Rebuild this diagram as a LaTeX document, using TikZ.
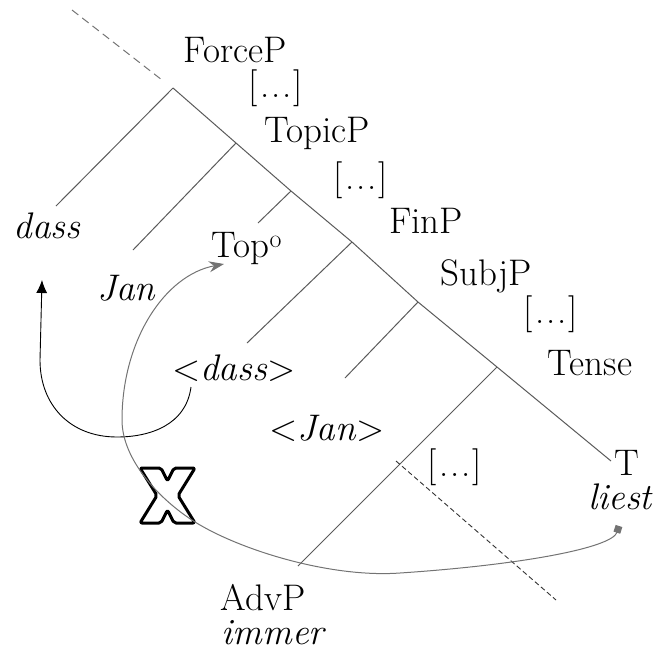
\documentclass[tikz,border=0pt]{standalone}
\usetikzlibrary{arrows.meta}
\definecolor{treegray}{RGB}{90,90,90}
\definecolor{movegray}{RGB}{115,115,115}

\begin{document}
\begin{tikzpicture}[x=1pt,y=-1pt,
    lbl/.style={font=\fontsize{37}{42}\selectfont,inner sep=0pt,anchor=base},
    lbli/.style={lbl,font=\fontsize{37}{42}\selectfont\itshape},
    branch/.style={treegray,line width=1pt},
  ]
  \def\elide{[\kern2pt.\kern2pt.\kern2pt.\kern2pt]}
  \useasboundingbox (0,0) rectangle (656,651);

  % spine of the tree
  \coordinate (force) at (173,88);
  \coordinate (topic) at (236,143);
  \coordinate (topich) at (291,191);
  \coordinate (fin) at (352,242);
  \coordinate (subj) at (418,302);
  \coordinate (tense) at (497,367);
  \coordinate (tend) at (611,461);
  \coordinate (advbr) at (396,461);

  % ends of the left branches
  \coordinate (dassend) at (56,206);
  \coordinate (janend) at (133,250);
  \coordinate (topend) at (258,223);
  \coordinate (dasstrend) at (247,343);
  \coordinate (jantrend) at (345,378);
  \coordinate (advend) at (298,566);
  \coordinate (vpend) at (556,600);
  \coordinate (upper) at (72,10);
  \coordinate (uppergap) at (162,80);

  \draw[branch] (force) -- (topic) -- (topich) -- (fin) -- (subj) -- (tense) -- (tend);
  \draw[branch] (force) -- (dassend);
  \draw[branch] (topic) -- (janend);
  \draw[branch] (topich) -- (topend);
  \draw[branch] (fin) -- (dasstrend);
  \draw[branch] (subj) -- (jantrend);
  \draw[branch] (tense) -- (advend);
  \draw[movegray,line width=1pt,dash pattern=on 8pt off 5pt] (upper) -- (uppergap);
  \draw[black!80,line width=0.9pt,dash pattern=on 5pt off 3pt] (advbr) -- (vpend);

  % labels on the spine
  \node[lbl] (forcep) at (235,62) {ForceP};
  \node[lbl] (elidea) at (276,97) {\elide};
  \node[lbl] (topicp) at (317,142) {TopicP};
  \node[lbl] (elideb) at (361,189) {\elide};
  \node[lbl] (finp) at (426,233) {FinP};
  \node[lbl] (subjp) at (486,285) {SubjP};
  \node[lbl] (elidec) at (551,323) {\elide};
  \node[lbl] (tensep) at (590,375) {Tense};
  \node[lbl] (tlbl) at (627,475) {T};
  \node[lbli] (liest) at (620,509) {liest};

  % labels on the branches
  \node[lbli] (dass) at (47,238) {dass};
  \node[lbli] (jan) at (126,300) {Jan};
  \node[lbl] (topo) at (247,257) {Top\textsuperscript{o}};
  \node[lbl] (dasstr) at (234,380) {<\textit{dass}>};
  \node[lbl] (jantr) at (327,440) {<\textit{Jan}>};
  \node[lbl] (elided) at (455,476) {\elide};
  \node[lbl] (advp) at (263,610) {AdvP};
  \node[lbli] (immer) at (273,644) {immer};

  % blocked movement
  \begin{scope}[shift={(140,468)}]
    \filldraw[fill=white,draw=black,line width=3pt,line join=round,rounded corners=2pt]
      (0,0) -- (21,0) -- (27.5,13) -- (34,0) -- (55,0) -- (38,27.5) -- (55,55)
      -- (34,55) -- (27.5,42) -- (21,55) -- (0,55) -- (17,27.5) -- cycle;
  \end{scope}

  \coordinate (dassfoot) at (191,387);
  \coordinate (dassgoal) at (42,280);
  \coordinate (liestfoot) at (619,526);
  \coordinate (topgoal) at (224,264);

  \draw[black,line width=0.9pt,-{Latex[length=13pt,width=11pt]}]
    (dassfoot) .. controls (186,425) and (150,437) .. (117,437)
    .. controls (70,437) and (40,405) .. (40,360) -- (dassgoal);

  \draw[movegray,line width=1pt,{Square[length=7pt,width=7pt]}-{Stealth[length=15pt,width=11pt]}]
    (liestfoot) .. controls (612,548) and (520,565) .. (400,573)
    .. controls (330,578) and (240,550) .. (195,522)
    .. controls (160,500) and (122,460) .. (122,420)
    .. controls (122,340) and (165,275) .. (topgoal);
\end{tikzpicture}
\end{document}
